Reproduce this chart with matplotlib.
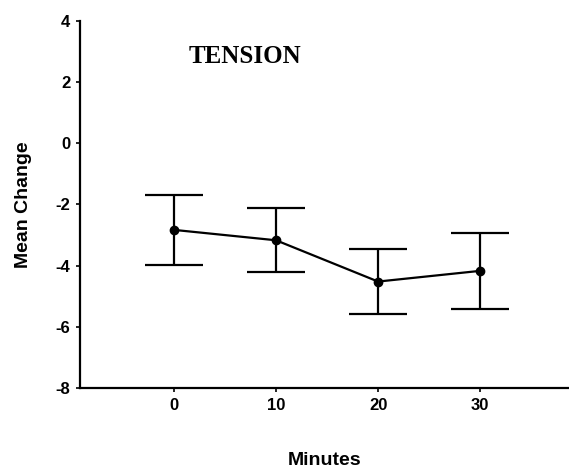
import matplotlib
matplotlib.use("Agg")
import matplotlib.pyplot as plt

# données : variation moyenne de la tension selon le temps
minutes = [0, 10, 20, 30]
moyennes = [-2.83, -3.17, -4.52, -4.17]
err_bas = [1.15, 1.05, 1.05, 1.25]
err_haut = [1.13, 1.05, 1.08, 1.23]

plt.rcParams["font.family"] = ["Liberation Sans", "DejaVu Sans"]
plt.rcParams["axes.unicode_minus"] = False

fig = plt.figure(figsize=(5.69, 4.72), dpi=100)
ax = fig.add_axes([0.1406, 0.178, 0.8594, 0.7775])

ax.errorbar(minutes, moyennes, yerr=[err_bas, err_haut], color="black",
            linewidth=1.6, elinewidth=1.6, capsize=21, capthick=1.6,
            marker="o", markersize=6)

ax.set_xlim(-9.2, 38.7)
ax.set_ylim(-8, 4)
ax.set_xticks(minutes)
ax.set_yticks([4, 2, 0, -2, -4, -6, -8])
ax.tick_params(axis="both", length=3, width=1.2, labelsize=12, pad=4)
for lab in ax.get_xticklabels() + ax.get_yticklabels():
    lab.set_fontweight("bold")

for cote in ["top", "right"]:
    ax.spines[cote].set_visible(False)
for cote in ["left", "bottom"]:
    ax.spines[cote].set_linewidth(1.6)

ax.set_ylabel("Mean Change", fontsize=14, fontweight="bold", labelpad=17)
ax.set_xlabel("Minutes", fontsize=14, fontweight="bold", labelpad=28)

ax.text(0.337, 0.902, "TENSION", transform=ax.transAxes, ha="center",
        va="center", fontsize=18, fontweight="bold", family="Liberation Serif")

fig.savefig("out.png", dpi=100)
